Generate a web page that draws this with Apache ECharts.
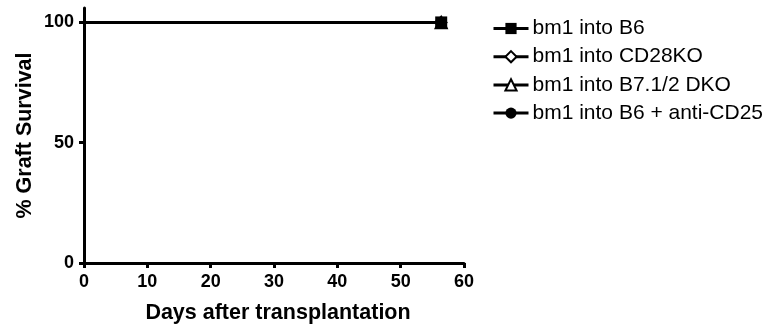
<!DOCTYPE html>
<html>
<head>
<meta charset="utf-8">
<script src="https://cdn.jsdelivr.net/npm/echarts@6/dist/echarts.min.js"></script>
<style>
html,body{margin:0;padding:0;background:#fff;}
#c{width:773px;height:329px;}
</style>
</head>
<body>
<div id="c"></div>
<script>
var days = [0, 56.4];
var seriesNames = ['bm1 into B6', 'bm1 into CD28KO', 'bm1 into B7.1/2 DKO', 'bm1 into B6 + anti-CD25'];
var survivalB6 = [100, 100];
var survivalCD28KO = [100, 100];
var survivalDKO = [100, 100];
var survivalAntiCD25 = [100, 100];
var yTicks = [0, 50, 100];

var FONT = '"Liberation Sans", Arial, Helvetica, sans-serif';

function mk(values) {
  return days.map(function (d, i) { return [d, values[i]]; });
}
var symSpec = [
  { symbol: 'rect', size: 12, fill: '#000', z: 6 },
  { symbol: 'diamond', size: 11, fill: '#fff', z: 3 },
  { symbol: 'triangle', size: 12, fill: '#fff', z: 4 },
  { symbol: 'circle', size: 12, fill: '#000', z: 2 }
];
var allValues = [survivalB6, survivalCD28KO, survivalDKO, survivalAntiCD25];

var series = seriesNames.map(function (n, k) {
  var s = symSpec[k];
  return {
    name: n,
    type: 'line',
    data: mk(allValues[k]),
    symbol: s.symbol,
    symbolSize: function (v, p) { return p.dataIndex === days.length - 1 ? s.size : 0; },
    showSymbol: true,
    z: s.z,
    lineStyle: { color: '#000', width: 3 },
    itemStyle: { color: s.fill, borderColor: '#000', borderWidth: s.fill === '#fff' ? 1.5 : 0 },
    emphasis: { disabled: true },
    animation: false
  };
});

var chart = echarts.init(document.getElementById('c'), null, { renderer: 'canvas' });
chart.setOption({
  animation: false,
  backgroundColor: '#fff',
  grid: { left: 84, right: 309, top: 8, bottom: 64, containLabel: false },
  legend: {
    orient: 'vertical',
    left: 492,
    top: 18,
    padding: 0,
    itemWidth: 35,
    itemHeight: 14,
    itemGap: 7.2,
    lineStyle: { width: 3, color: '#000' },
    textStyle: { fontFamily: FONT, fontSize: 21, color: '#000', lineHeight: 20, padding: [0, 0, 0, -1] },
    data: seriesNames
  },
  xAxis: {
    type: 'value',
    min: 0, max: 60, interval: 10,
    name: 'Days after transplantation',
    nameLocation: 'middle',
    nameGap: 39,
    nameTextStyle: { fontFamily: FONT, fontSize: 21.5, fontWeight: 'bold', color: '#000', verticalAlign: 'top', padding: [0, 0, 0, 8] },
    axisLine: { show: true, onZero: false, lineStyle: { color: '#000', width: 3 } },
    axisTick: { show: true, length: 5, lineStyle: { color: '#000', width: 3 } },
    axisLabel: { fontFamily: FONT, fontSize: 18, fontWeight: 'bold', color: '#000', margin: 10 },
    splitLine: { show: false }
  },
  yAxis: {
    type: 'value',
    min: 0, max: 106,
    name: '% Graft Survival',
    nameLocation: 'middle',
    nameGap: 48,
    nameRotate: 90,
    nameTextStyle: { fontFamily: FONT, fontSize: 21.5, fontWeight: 'bold', color: '#000' },
    axisLine: { show: true, lineStyle: { color: '#000', width: 3 } },
    axisTick: { show: true, length: 5, customValues: yTicks, lineStyle: { color: '#000', width: 3 } },
    axisLabel: { fontFamily: FONT, fontSize: 18, fontWeight: 'bold', color: '#000', margin: 10, customValues: yTicks },
    splitLine: { show: false }
  },
  series: series
});
</script>
</body>
</html>
